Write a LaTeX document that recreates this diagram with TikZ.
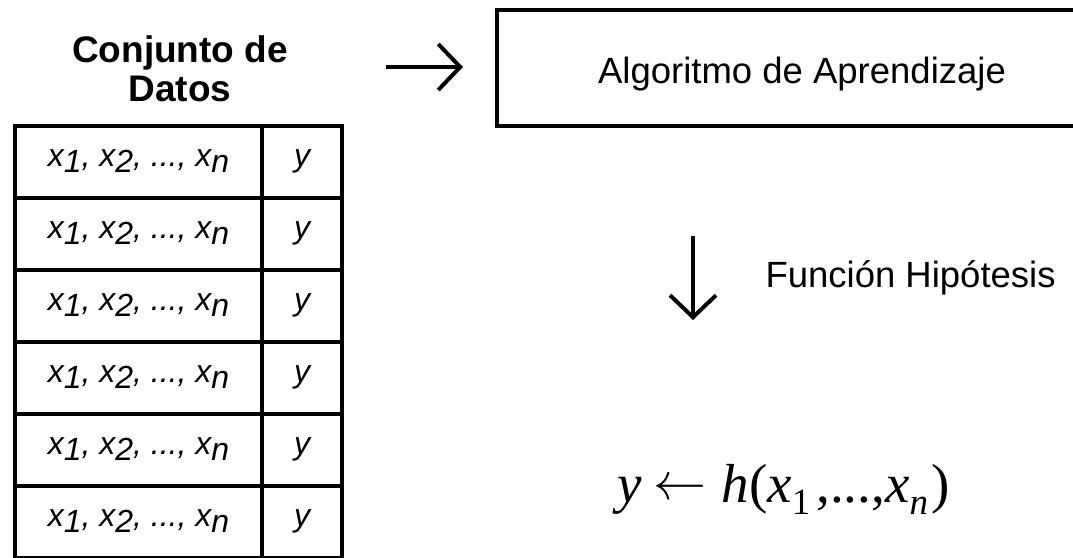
\documentclass[tikz,border=0pt]{standalone}
\usepackage{fontspec}
\usepackage{graphicx}
\setmainfont{Liberation Sans}
\newfontfamily\formulafont{Liberation Serif}
\usetikzlibrary{arrows.meta}

\newcommand{\lowsub}[1]{\raisebox{-6pt}{#1}}
\newcommand{\featrow}{x\lowsub{1}, x\lowsub{2}, ..., x\lowsub{n}}
\newcommand{\hypsub}[1]{\raisebox{-12pt}{\fontsize{37}{37}\selectfont #1}}
\newcommand{\assignarrow}{\raisebox{3pt}{\resizebox{53pt}{!}{$\leftarrow$}}}

\begin{document}
\begin{tikzpicture}[x=1pt, y=-1pt,
  frame/.style={draw=black, line width=4pt, outer sep=0pt, inner sep=0pt},
  cell/.style={frame, minimum height=72pt, anchor=north west,
    text height=16pt, text depth=8pt,
    font=\fontsize{32}{38}\selectfont\itshape},
  flow/.style={line width=4pt, -{Straight Barb[length=22pt, width=46pt]}},
  sanslabel/.style={font=\fontsize{36.5}{44}\selectfont},
]
\useasboundingbox (0,0) rectangle (1073,557);
\clip (0,0) rectangle (1073,557);

% title of the data set
\node[font=\fontsize{37}{39}\selectfont\bfseries, align=center, inner sep=0pt] (title) at (180,69)
  {Conjunto de\\Datos};

% data table: feature column and target column
\foreach \i in {0,...,5} {
  \node[cell, minimum width=247pt] (feat\i) at (15,126+72*\i) {\featrow};
  \node[cell, minimum width=80pt] (targ\i) at (262,126+72*\i) {y};
}

% learning algorithm box (runs past the right edge)
\node[frame, minimum width=613pt, minimum height=116.5pt, anchor=north west]
  (algo) at (497,9.5) {};
\node[sanslabel, anchor=base] (algotext) at (802,83) {Algoritmo de Aprendizaje};

% arrows
\coordinate (inA) at (386,67);
\coordinate (inB) at (463,67);
\draw[flow] (inA) -- (inB);

\coordinate (outA) at (693,236);
\coordinate (outB) at (693,320);
\draw[flow] (outA) -- (outB);

\node[sanslabel, anchor=base west] (hyp) at (762,287) {Función Hipótesis};

% resulting hypothesis
\node[anchor=base west, inner sep=0pt, font=\formulafont\fontsize{55}{60}\selectfont] (hfun) at (617,502)
  {\textit{y}\hspace{12pt}\assignarrow\hspace{15pt}\textit{h}(\textit{x}\hypsub{1}\hspace{6pt},...,\textit{x}\hypsub{\itshape n}\hspace{3pt})};
\end{tikzpicture}
\end{document}
